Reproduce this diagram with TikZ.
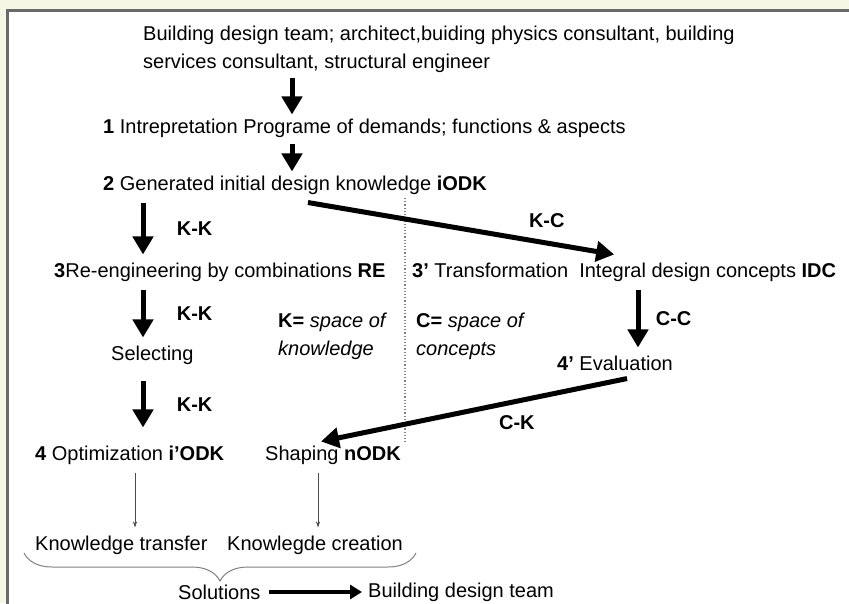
\documentclass[tikz,border=0pt]{standalone}
\usepackage{fontspec}
\setmainfont{Liberation Sans}
\setsansfont{Liberation Sans}
\usetikzlibrary{arrows.meta,decorations.pathreplacing}
\definecolor{paper}{RGB}{246,246,228}
\definecolor{rim}{RGB}{105,105,105}

\begin{document}
\begin{tikzpicture}[x=1pt,y=-1pt,
    txt/.style={anchor=west,inner xsep=0pt,inner ysep=8pt,font=\fontsize{20}{28}\selectfont},
    lbl/.style={font=\fontsize{20}{28}\selectfont\bfseries},
    fat/.style={line width=5pt,-{Triangle[length=18pt,width=20pt]}},
    slim/.style={line width=0.6pt,gray!60!black,-{Stealth[length=6pt,width=4pt]}}]
  \fill[paper] (0,0) rectangle (849,603);
  \useasboundingbox (0,0) rectangle (849,603);
  \fill[white] (7,10) rectangle (870,620);
  \draw[rim,line width=3pt] (7,10) rectangle (870,620);

  % the steps
  \node[txt,align=left] (team) at (143,49) {Building design team; architect,buiding physics consultant, building\\services consultant, structural engineer};
  \node[txt] (interp) at (103,128) {\textbf{1} Intrepretation Programe of demands; functions \& aspects};
  \node[txt] (gen) at (103,185) {\textbf{2} Generated initial design knowledge \textbf{iODK}};
  \node[txt] (re) at (54,272) {\textbf{3}Re-engineering by combinations \textbf{RE}};
  \node[txt] (trans) at (412,272) {\textbf{3'} Transformation\ \ Integral design concepts \textbf{IDC}};
  \node[txt] (sel) at (111,355) {Selecting};
  \node[txt] (eval) at (557,363) {\textbf{4'} Evaluation};
  \node[txt] (opt) at (35,455) {\textbf{4} Optimization \textbf{i'ODK}};
  \node[txt] (shap) at (265,455) {Shaping \textbf{nODK}};
  \node[txt] (ktrans) at (35,545) {Knowledge transfer};
  \node[txt] (kcreat) at (227,545) {Knowlegde creation};
  \node[txt] (sol) at (178,592) {Solutions};
  \node[txt] (team2) at (368,592) {Building design team};

  % the two spaces
  \node[txt,align=left] (kspace) at (278,336) {\textbf{K=} \textit{space of}\\\textit{knowledge}};
  \node[txt,align=left] (cspace) at (416,336) {\textbf{C=} \textit{space of}\\\textit{concepts}};
  \draw[gray,dotted,line width=1.2pt] (405,198) -- (405,443);

  % arrows
  \draw[fat,shorten <=-3pt,shorten >=-4pt] (292,0 |- team.south) -- (292,0 |- interp.north);
  \draw[fat,shorten <=-2pt,shorten >=-4pt] (292,0 |- interp.south) -- (292,0 |- gen.north);
  \draw[fat] (143,0 |- gen.south) -- (143,0 |- re.north) node[lbl,midway,right=28pt] (kk1) {K-K};
  \draw[fat] (143,0 |- re.south) -- (143,0 |- sel.north) node[lbl,midway,right=28pt] (kk2) {K-K};
  \draw[fat,shorten <=8pt,shorten >=10pt] (143,0 |- sel.south) -- (143,0 |- opt.north) node[lbl,midway,right=28pt] (kk3) {K-K};
  \draw[fat] ([xshift=13pt]gen.south) -- ([xshift=-10pt]trans.north) node[lbl,pos=0.78,above=10pt] (kc) {K-C};
  \draw[fat] (638,0 |- trans.south) -- (638,0 |- eval.north) node[lbl,midway,right=12pt] (cc) {C-C};
  \draw[fat] ([xshift=12pt]eval.south) -- ([xshift=-12pt,yshift=-4pt]shap.north) node[lbl,pos=0.36,below=8pt] (ck) {C-K};
  \draw[slim] (135,0 |- opt.south) -- (135,0 |- ktrans.north);
  \draw[slim] (318,0 |- shap.south) -- (318,0 |- kcreat.north);
  \draw[line width=4pt,-{Triangle[length=12pt,width=14pt]}] ([xshift=8pt]sol.east) -- ([xshift=-6pt]team2.west);

  % brace
  \draw[gray,line width=1pt,decorate,decoration={brace,amplitude=28pt}] (416,553) -- (24,553);
\end{tikzpicture}
\end{document}
